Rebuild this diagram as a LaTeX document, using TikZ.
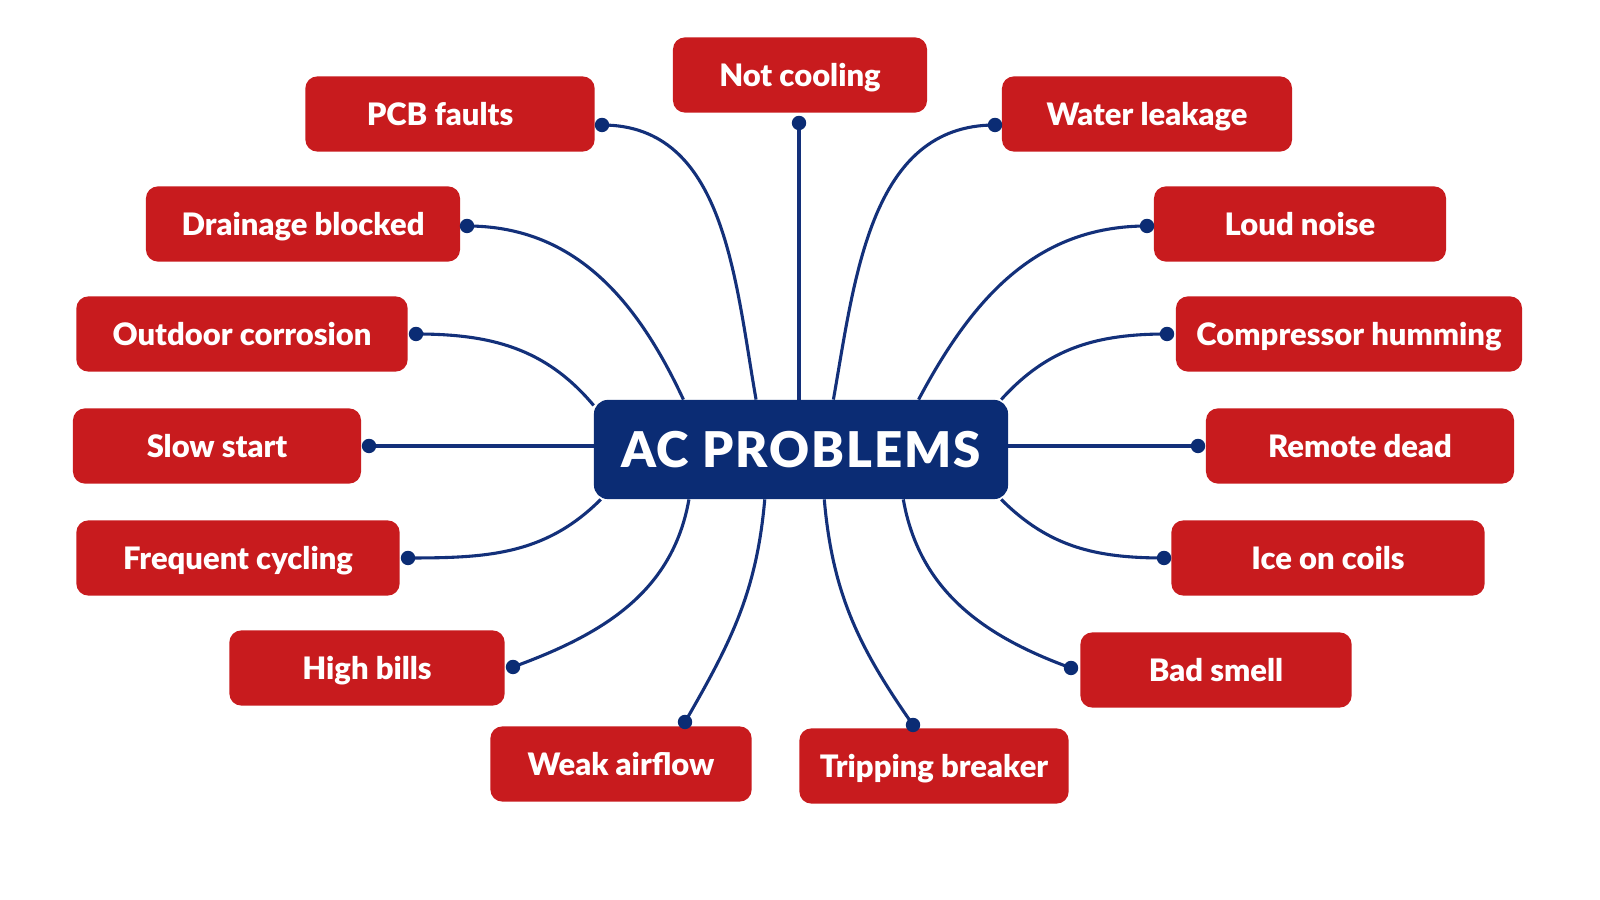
\documentclass[tikz,border=0pt]{standalone}
\usepackage{fontspec}
\setmainfont{Lato}[BoldFont={Lato Black}]
\usepackage{tikz}
\usetikzlibrary{positioning,calc,backgrounds}
\definecolor{acRed}{HTML}{C81B1E}
\definecolor{acNavy}{HTML}{0B2C74}
\definecolor{acLine}{HTML}{13307A}
\tikzset{
    acIssue/.style={
        rectangle,
        fill=acRed,
        rounded corners=0.3cm,
        minimum height=1.88cm,
        text=white,
        font=\fontsize{22}{26}\selectfont\bfseries,
        text height=16pt,
        text depth=0pt,
        inner sep=0pt
    },
    acHub/.style={
        rectangle,
        fill=acNavy,
        rounded corners=0.35cm,
        minimum width=10.35cm,
        minimum height=2.48cm,
        text=white,
        font=\fontsize{35}{40}\selectfont\bfseries\addfontfeature{LetterSpace=4},
        text height=25pt,
        text depth=0pt,
        inner sep=0pt
    },
    % connector ends
    acDot/.style={circle, fill=acNavy, minimum size=0.36cm, inner sep=0pt},
    acLink/.style={draw=acLine, line width=2.2pt}
}
\begin{document}
\begin{tikzpicture}[x=0.025cm, y=0.025cm]
\useasboundingbox (0,0) rectangle (1600,900);

% hub
\node[acHub] (ac) at (801,450.5) {AC PROBLEMS};

% issues, top to bottom
\node[acIssue, minimum width=6.35cm] (cooling) at (800,825) {Not cooling};
\node[acIssue, minimum width=7.23cm] (pcb) at (450,786) {PCB faults\kern0.5cm};
\node[acIssue, minimum width=7.25cm] (leak) at (1147,786) {Water leakage};
\node[acIssue, minimum width=7.85cm] (drain) at (303,676) {Drainage blocked};
\node[acIssue, minimum width=7.3cm] (noise) at (1300,676) {Loud noise};
\node[acIssue, minimum width=8.28cm] (corrosion) at (242,566) {Outdoor corrosion};
\node[acIssue, minimum width=8.65cm] (humming) at (1349,566) {Compressor humming};
\node[acIssue, minimum width=7.2cm] (slow) at (217,454) {Slow start};
\node[acIssue, minimum width=7.7cm] (remote) at (1360,454) {Remote dead};
\node[acIssue, minimum width=8.08cm] (cycling) at (238,342) {Frequent cycling};
\node[acIssue, minimum width=7.83cm] (ice) at (1328,342) {Ice on coils};
\node[acIssue, minimum width=6.88cm] (bills) at (367,232) {High bills};
\node[acIssue, minimum width=6.78cm] (smell) at (1216,230) {Bad smell};
\node[acIssue, minimum width=6.53cm] (airflow) at (621,136) {Weak airflow};
\node[acIssue, minimum width=6.73cm] (breaker) at (934,134) {Tripping breaker};

% dots
\node[acDot] (coolingD) at (799,777) {};
\node[acDot] (pcbD) at (602,775) {};
\node[acDot] (leakD) at (995,775) {};
\node[acDot] (drainD) at (467,674) {};
\node[acDot] (noiseD) at (1147,674) {};
\node[acDot] (corrosionD) at (416,566) {};
\node[acDot] (hummingD) at (1167,566) {};
\node[acDot] (slowD) at (369,454) {};
\node[acDot] (remoteD) at (1198,454) {};
\node[acDot] (cyclingD) at (408,342) {};
\node[acDot] (iceD) at (1164,342) {};
\node[acDot] (billsD) at (513,233) {};
\node[acDot] (smellD) at (1071,232) {};
\node[acDot] (airflowD) at (685,178) {};
\node[acDot] (breakerD) at (913,175) {};

\begin{scope}[on background layer]
\fill[white] (0,0) rectangle (1600,900);
\draw[acLink] (coolingD.center) -- (coolingD |- ac.north);
\draw[acLink] (pcbD.center) to[out=0, in=100] (ac.132);
\draw[acLink] (leakD.center) to[out=180, in=80] (ac.57);
\draw[acLink] (drainD.center) to[out=0, in=115] (ac.157);
\draw[acLink] (noiseD.center) to[out=180, in=62] (ac.23);
\draw[acLink] (corrosionD.center) to[out=0, in=130] (ac.168);
\draw[acLink] (hummingD.center) to[out=180, in=48] (ac.14.5);
\draw[acLink] (slowD.center) -- (slowD -| ac.west);
\draw[acLink] (remoteD.center) -- (remoteD -| ac.east);
\draw[acLink] (cyclingD.center) to[out=0, in=-135] (ac.194);
\draw[acLink] (iceD.center) to[out=180, in=-45] (ac.346);
\draw[acLink] (billsD.center) to[out=20, in=-100] (ac.204);
\draw[acLink] (smellD.center) to[out=160, in=-80] (ac.334);
\draw[acLink] (airflowD.center) to[out=60, in=-95] (ac.234);
\draw[acLink] (breakerD.center) to[out=125, in=-85] (ac.295);
\end{scope}
\end{tikzpicture}
\end{document}
